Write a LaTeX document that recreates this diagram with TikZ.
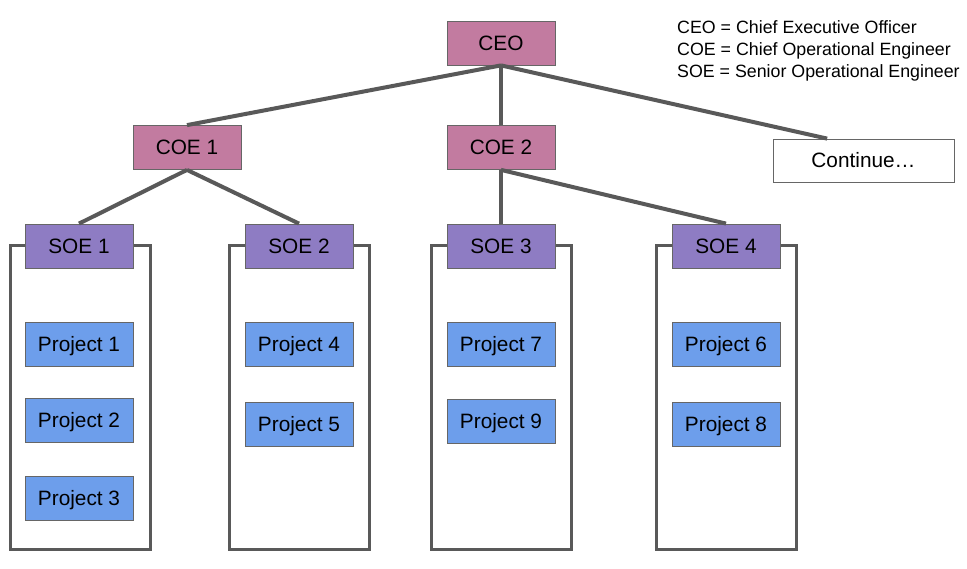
\documentclass[tikz,border=0pt]{standalone}
\usepackage{fontspec}
\setmainfont{Liberation Sans}
\usetikzlibrary{calc}
\definecolor{mauve}{HTML}{C27BA0}
\definecolor{lav}{HTML}{8E7CC3}
\definecolor{blu}{HTML}{6D9EEB}
\definecolor{ln}{HTML}{595959}
\definecolor{bd}{HTML}{666666}
\tikzset{
  box/.style={draw=bd, line width=0.8pt, minimum width=108pt, minimum height=44pt, inner sep=0pt,
    font=\fontsize{20.8}{24}\selectfont, text height=14.9pt, text depth=0pt},
  mgr/.style={box, fill=mauve},
  soe/.style={box, fill=lav},
  proj/.style={box, fill=blu},
  link/.style={draw=ln, line width=4pt},
  frame/.style={draw=ln, line width=3pt},
  legend/.style={anchor=base west, inner sep=0pt, font=\fontsize{17.8}{21}\selectfont}
}
\begin{document}
\begin{tikzpicture}[x=1pt,y=-1pt]
\useasboundingbox (0,0) rectangle (967,569);
% frames
\draw[frame] (10,246) rectangle (150,549);
\draw[frame] (229,246) rectangle (369,549);
\draw[frame] (431,246) rectangle (571,549);
\draw[frame] (656,246) rectangle (796,549);
% nodes
\node[mgr] (ceo) at (501,43) {CEO};
\node[mgr] (coe1) at (187,147.5) {COE 1};
\node[mgr] (coe2) at (501,147.5) {COE 2};
\node[box, fill=white, minimum width=181pt, minimum height=43pt] (cont) at (863.5,160.5) {Continue…};
\node[soe] (soe1) at (79,246) {SOE 1};
\node[soe] (soe2) at (299,246) {SOE 2};
\node[soe] (soe3) at (501,246) {SOE 3};
\node[soe] (soe4) at (726,246) {SOE 4};
\node[proj] (p1) at (79,344) {Project 1};
\node[proj] (p2) at (79,420.5) {Project 2};
\node[proj] (p3) at (79,498.5) {Project 3};
\node[proj] (p4) at (299,344) {Project 4};
\node[proj] (p5) at (299,424) {Project 5};
\node[proj] (p7) at (501,344) {Project 7};
\node[proj] (p9) at (501,421.5) {Project 9};
\node[proj] (p6) at (726,344) {Project 6};
\node[proj] (p8) at (726,424) {Project 8};
% connectors
\coordinate (contin) at ($(cont.north west)!0.3!(cont.north east)$);
\draw[link] (ceo.south) -- (coe1.north);
\draw[link] (ceo.south) -- (coe2.north);
\draw[link] (ceo.south) -- (contin);
\draw[link] (coe1.south) -- (soe1.north);
\draw[link] (coe1.south) -- (soe2.north);
\draw[link] (coe2.south) -- (soe3.north);
\draw[link] (coe2.south) -- (soe4.north);
% legend
\node[legend] (l1) at (677,34) {CEO = Chief Executive Officer};
\node[legend] (l2) at (677,56) {COE = Chief Operational Engineer};
\node[legend] (l3) at (677,77.5) {SOE = Senior Operational Engineer};
\end{tikzpicture}
\end{document}
